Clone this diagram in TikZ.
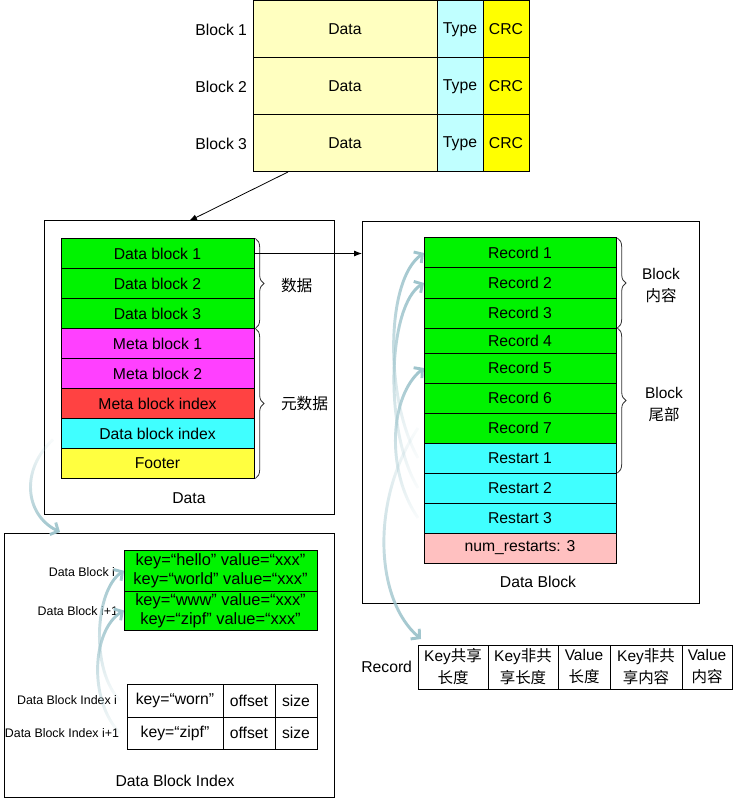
\documentclass[tikz,border=0pt]{standalone}
\usepackage{fontspec}
\setmainfont{Liberation Sans}
\newfontfamily\cjk{Noto Sans CJK SC}
\usetikzlibrary{arrows.meta,decorations.pathreplacing,fadings,calc}
\definecolor{dataY}{HTML}{FFFFC0}
\definecolor{typeC}{HTML}{C0FFFF}
\definecolor{crcY}{HTML}{FFFF00}
\definecolor{gr}{HTML}{00F300}
\definecolor{mag}{HTML}{FF40FF}
\definecolor{redc}{HTML}{FF4242}
\definecolor{cyc}{HTML}{40FFFF}
\definecolor{yel}{HTML}{FFFF40}
\definecolor{pinkc}{HTML}{FFC0C0}
\definecolor{curvecol}{HTML}{9EC4CC}
\tikzfading[name=fadeS, top color=transparent!0, middle color=transparent!15, bottom color=transparent!95]
\tikzfading[name=fadeN, top color=transparent!95, middle color=transparent!15, bottom color=transparent!0]
\begin{document}
\begin{tikzpicture}[x=0.75pt,y=-0.75pt,
  every node/.style={font=\fontsize{11.8pt}{13pt}\selectfont, inner sep=0pt, outer sep=0pt},
  cell/.style={draw=black, line width=0.75pt, anchor=north west, align=center},
  wd/.style={minimum width=#1*0.75pt},
  ht/.style={minimum height=#1*0.75pt},
  panel/.style={draw=black, line width=0.75pt, anchor=north west},
  small/.style={font=\fontsize{9.3pt}{11pt}\selectfont, anchor=east},
  two/.style={align=center, font=\fontsize{11.6pt}{16.5pt}\selectfont},
  kv/.style={font=\fontsize{12.3pt}{14.3pt}\selectfont},
  link/.style={-{Latex[length=6pt,width=4.5pt]}, line width=0.6pt},
  cbrace/.style={decorate, decoration={brace, amplitude=6.5pt}, line width=0.6pt, draw=black!80},
  curveS/.style={draw=curvecol, line width=2.2pt, path fading=fadeS, -{Straight Barb[length=4.5pt,width=10pt]}},
  curveN/.style={draw=curvecol, line width=2.2pt, path fading=fadeN, -{Straight Barb[length=4.5pt,width=10pt]}}
]
\useasboundingbox (0,0) rectangle (734,798);

% ---- top blocks
\node[cell, wd=184, ht=57, fill=dataY] (d1) at (253,1) {Data};
\node[cell, wd=46, ht=57, fill=typeC] (t1) at (437,1) {Type};
\node[cell, wd=46, ht=57, fill=crcY] (c1) at (483,1) {CRC};
\node[cell, wd=184, ht=57, fill=dataY] (d2) at (253,58) {Data};
\node[cell, wd=46, ht=57, fill=typeC] (t2) at (437,58) {Type};
\node[cell, wd=46, ht=57, fill=crcY] (c2) at (483,58) {CRC};
\node[cell, wd=184, ht=57, fill=dataY] (d3) at (253,115) {Data};
\node[cell, wd=46, ht=57, fill=typeC] (t3) at (437,115) {Type};
\node[cell, wd=46, ht=57, fill=crcY] (c3) at (483,115) {CRC};
\node[anchor=east] (bl1) at (247,29.5) {Block 1};
\node[anchor=east] (bl2) at (247,86.5) {Block 2};
\node[anchor=east] (bl3) at (247,143.5) {Block 3};

% ---- Data panel
\node[panel, wd=290, ht=293] (dpanel) at (44,221) {};
\node[cell, wd=193, ht=30, fill=gr] (db1) at (61,238.5) {Data block 1};
\node[cell, wd=193, ht=30, fill=gr] (db2) at (61,268.5) {Data block 2};
\node[cell, wd=193, ht=30, fill=gr] (db3) at (61,298.5) {Data block 3};
\node[cell, wd=193, ht=30, fill=mag] (mb1) at (61,328.5) {Meta block 1};
\node[cell, wd=193, ht=30, fill=mag] (mb2) at (61,358.5) {Meta block 2};
\node[cell, wd=193, ht=30, fill=redc] (mbi) at (61,388.5) {Meta block index};
\node[cell, wd=193, ht=30, fill=cyc] (dbi) at (61,418.5) {Data block index};
\node[cell, wd=193, ht=30, fill=yel] (foot) at (61,448.5) {Footer};
\node (dlab) at (189,498) {Data};
\draw[cbrace] ([xshift=1pt]db1.north east) -- ([xshift=1pt]db3.south east);
\draw[cbrace] ([xshift=1pt]mb1.north east) -- ([xshift=1pt]foot.south east);
\node[anchor=west] (lab1) at (281,286) {\cjk 数据};
\node[anchor=west] (lab2) at (281,403.5) {\cjk 元数据};

% ---- Data Block panel
\node[panel, wd=337, ht=382] (rpanel) at (362,221.5) {};
\node[cell, wd=192, ht=30, fill=gr] (r1) at (424,238) {Record 1};
\node[cell, wd=192, ht=30, fill=gr] (r2) at (424,268) {Record 2};
\node[cell, wd=192, ht=30, fill=gr] (r3) at (424,298) {Record 3};
\node[cell, wd=192, ht=25, fill=gr] (r4) at (424,328) {Record 4};
\node[cell, wd=192, ht=30, fill=gr] (r5) at (424,353) {Record 5};
\node[cell, wd=192, ht=30, fill=gr] (r6) at (424,383) {Record 6};
\node[cell, wd=192, ht=30, fill=gr] (r7) at (424,413) {Record 7};
\node[cell, wd=192, ht=30, fill=cyc] (rs1) at (424,443) {Restart 1};
\node[cell, wd=192, ht=30, fill=cyc] (rs2) at (424,473) {Restart 2};
\node[cell, wd=192, ht=30, fill=cyc] (rs3) at (424,503) {Restart 3};
\node[cell, wd=192, ht=30, fill=pinkc] (nr) at (424,533) {num\_restarts: 3};
\node (rlab) at (538,582) {Data Block};
\draw[cbrace] ([xshift=1pt]r1.north east) -- ([xshift=1pt]r3.south east);
\draw[cbrace] ([xshift=1pt]r4.north east) -- ([xshift=1pt]rs1.south east);
\node[two] (blk1) at (661,286) {Block\\{\cjk 内容}};
\node[two] (blk2) at (664,404.5) {Block\\{\cjk 尾部}};

% ---- Record table
\node[anchor=east] (reclab) at (412,667) {Record};
\node[cell, two, wd=70, ht=44] (k1) at (418,645) {Key{\cjk 共享}\\{\cjk 长度}};
\node[cell, two, wd=70, ht=44] (k2) at (488,645) {Key{\cjk 非共}\\{\cjk 享长度}};
\node[cell, two, wd=52, ht=44] (k3) at (558,645) {Value\\{\cjk 长度}};
\node[cell, two, wd=72, ht=44] (k4) at (610,645) {Key{\cjk 非共}\\{\cjk 享内容}};
\node[cell, two, wd=50, ht=44] (k5) at (682,645) {Value\\{\cjk 内容}};

% ---- Data Block Index panel
\node[panel, wd=330, ht=263.5] (ipanel) at (4,533.5) {};
\node[cell, kv, wd=193, ht=40.5, fill=gr] (kv1) at (124,550.5) {key=“hello” value=“xxx”\\key=“world” value=“xxx”};
\node[cell, kv, wd=193, ht=39, fill=gr] (kv2) at (124,591) {key=“www” value=“xxx”\\key=“zipf” value=“xxx”};
\node[cell, wd=96, ht=33] (ix1) at (127,684) {key=“worn”};
\node[cell, wd=52, ht=33] (io1) at (223,684) {offset};
\node[cell, wd=42, ht=33] (is1) at (275,684) {size};
\node[cell, wd=96, ht=32.5] (ix2) at (127,717) {key=“zipf”};
\node[cell, wd=52, ht=32.5] (io2) at (223,717) {offset};
\node[cell, wd=42, ht=32.5] (is2) at (275,717) {size};
\node[small] (sl1) at (115,572) {Data Block i};
\node[small] (sl2) at (118,611) {Data Block i+1};
\node[small] (sl3) at (117,700) {Data Block Index i};
\node[small] (sl4) at (119,733) {Data Block Index i+1};
\node (ilab) at (175,781) {Data Block Index};

% ---- black arrows
\draw[link] ($(d3.south west)!0.19!(d3.south east)$) -- (dpanel.north);
\draw[link] (db1.east) -- (db1.east -| rpanel.west);

% ---- light curves
\draw[curveN] ($(dbi.west)+(-8,6)$) .. controls (20,470) and (25,515) .. ($(ipanel.north west)+(56,-1.5)$);
\draw[curveS] ($(ix1.west)+(-7,0)$) .. controls (90,670) and (95,590) .. (kv1.west);
\draw[curveS] ($(ix2.west)+(-7,0)$) .. controls (88,700) and (92,630) .. (kv2.west);
\draw[curveS] ($(rs1.west)+(-6,0)$) .. controls (385,400) and (385,280) .. (r1.west);
\draw[curveS] ($(rs2.west)+(-6,0)$) .. controls (383,430) and (388,305) .. (r2.west);
\draw[curveS] ($(rs3.west)+(-6,0)$) .. controls (385,470) and (390,395) .. (r5.west);
\draw[curveN] ($(r7.west)+(-6,0)$) .. controls (370,500) and (375,600) .. ($(k1.north west)+(3,-6)$);
\end{tikzpicture}
\end{document}
